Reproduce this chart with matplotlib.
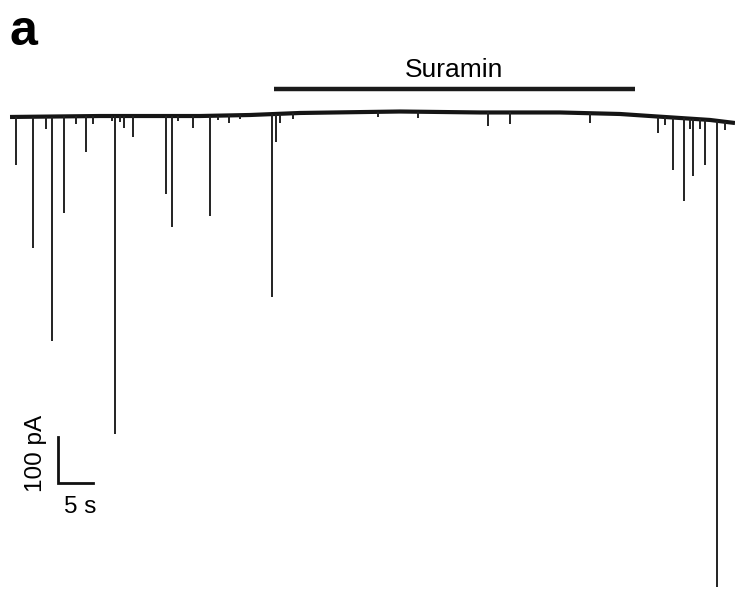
import numpy as np
import matplotlib
matplotlib.use('Agg')
import matplotlib.pyplot as plt

plt.rcParams['font.family'] = ['Liberation Sans', 'DejaVu Sans']

# baseline drift of the recording (time s, current pA)
base_t = [0.0, 12.86, 27.14, 34.29, 41.43, 55.71, 67.14, 78.57, 87.14, 91.43, 95.71, 100.0, 103.57]
base_i = [2.2, 4.3, 4.3, 6.5, 10.9, 14.1, 12.0, 12.0, 8.7, 4.3, 0.0, -4.3, -10.9]

# inward currents: time (s) and amplitude from baseline (pA)
event_t = [0.81, 3.29, 5.14, 5.96, 7.76, 9.43, 10.86, 11.81, 14.57, 15.0,
           15.71, 16.29, 17.53, 22.29, 23.19, 24.0, 26.14, 28.57, 29.71, 31.29,
           32.86, 37.47, 37.96, 38.57, 40.43, 52.57, 58.29, 68.24, 71.43, 82.86,
           92.57, 93.57, 94.67, 96.33, 97.14, 97.61, 98.57, 99.29, 100.96, 102.14]
event_amp = [-104, -285, -26, -489, -211, -17, -78, -17, -11, -691,
             -13, -26, -46, -170, -241, -11, -26, -217, -9, -17,
             -9, -398, -61, -20, -13, -11, -13, -30, -26, -22,
             -35, -17, -115, -180, -22, -124, -22, -98, -1013, -17]

drug_label = 'Suramin'
drug_on, drug_off = 37.71, 89.29
scale_t, scale_i = 5, 100

fig = plt.figure(figsize=(7.35, 5.91), dpi=100)
ax = fig.add_axes([0, 0, 1, 1])

# trace: baseline with spikes
ev_t = np.array(event_t)
ev_top = np.interp(ev_t, base_t, base_i)
ax.plot(base_t, base_i, color='#151515', lw=3.0, solid_capstyle='butt')
ax.vlines(ev_t, ev_top + np.array(event_amp), ev_top, color='#222222', lw=1.4)

# drug application bar
ax.plot([drug_on, drug_off], [63, 63], color='#1a1a1a', lw=3.2, solid_capstyle='butt')
ax.text((drug_on + drug_off) / 2, 89, drug_label, ha='center', va='baseline', fontsize=19)

# scale bar
x0, y0 = 6.86, -793.5
ax.plot([x0, x0, x0 + scale_t], [y0 + scale_i, y0, y0], color='#111111', lw=2, solid_joinstyle='miter')
ax.text(3.65, -730, f'{scale_i} pA', rotation=90, ha='center', va='center', fontsize=17.5)
ax.text(10.07, -858.7, f'{scale_t} s', ha='center', va='baseline', fontsize=17.5)

fig.text(0.0136, 0.924, 'a', fontsize=36, fontweight='bold', ha='left', va='baseline')

ax.set_xlim(-1.43, 103.57)
ax.set_ylim(-1028.3, 256.5)
ax.axis('off')

fig.savefig('out.png', dpi=100)
